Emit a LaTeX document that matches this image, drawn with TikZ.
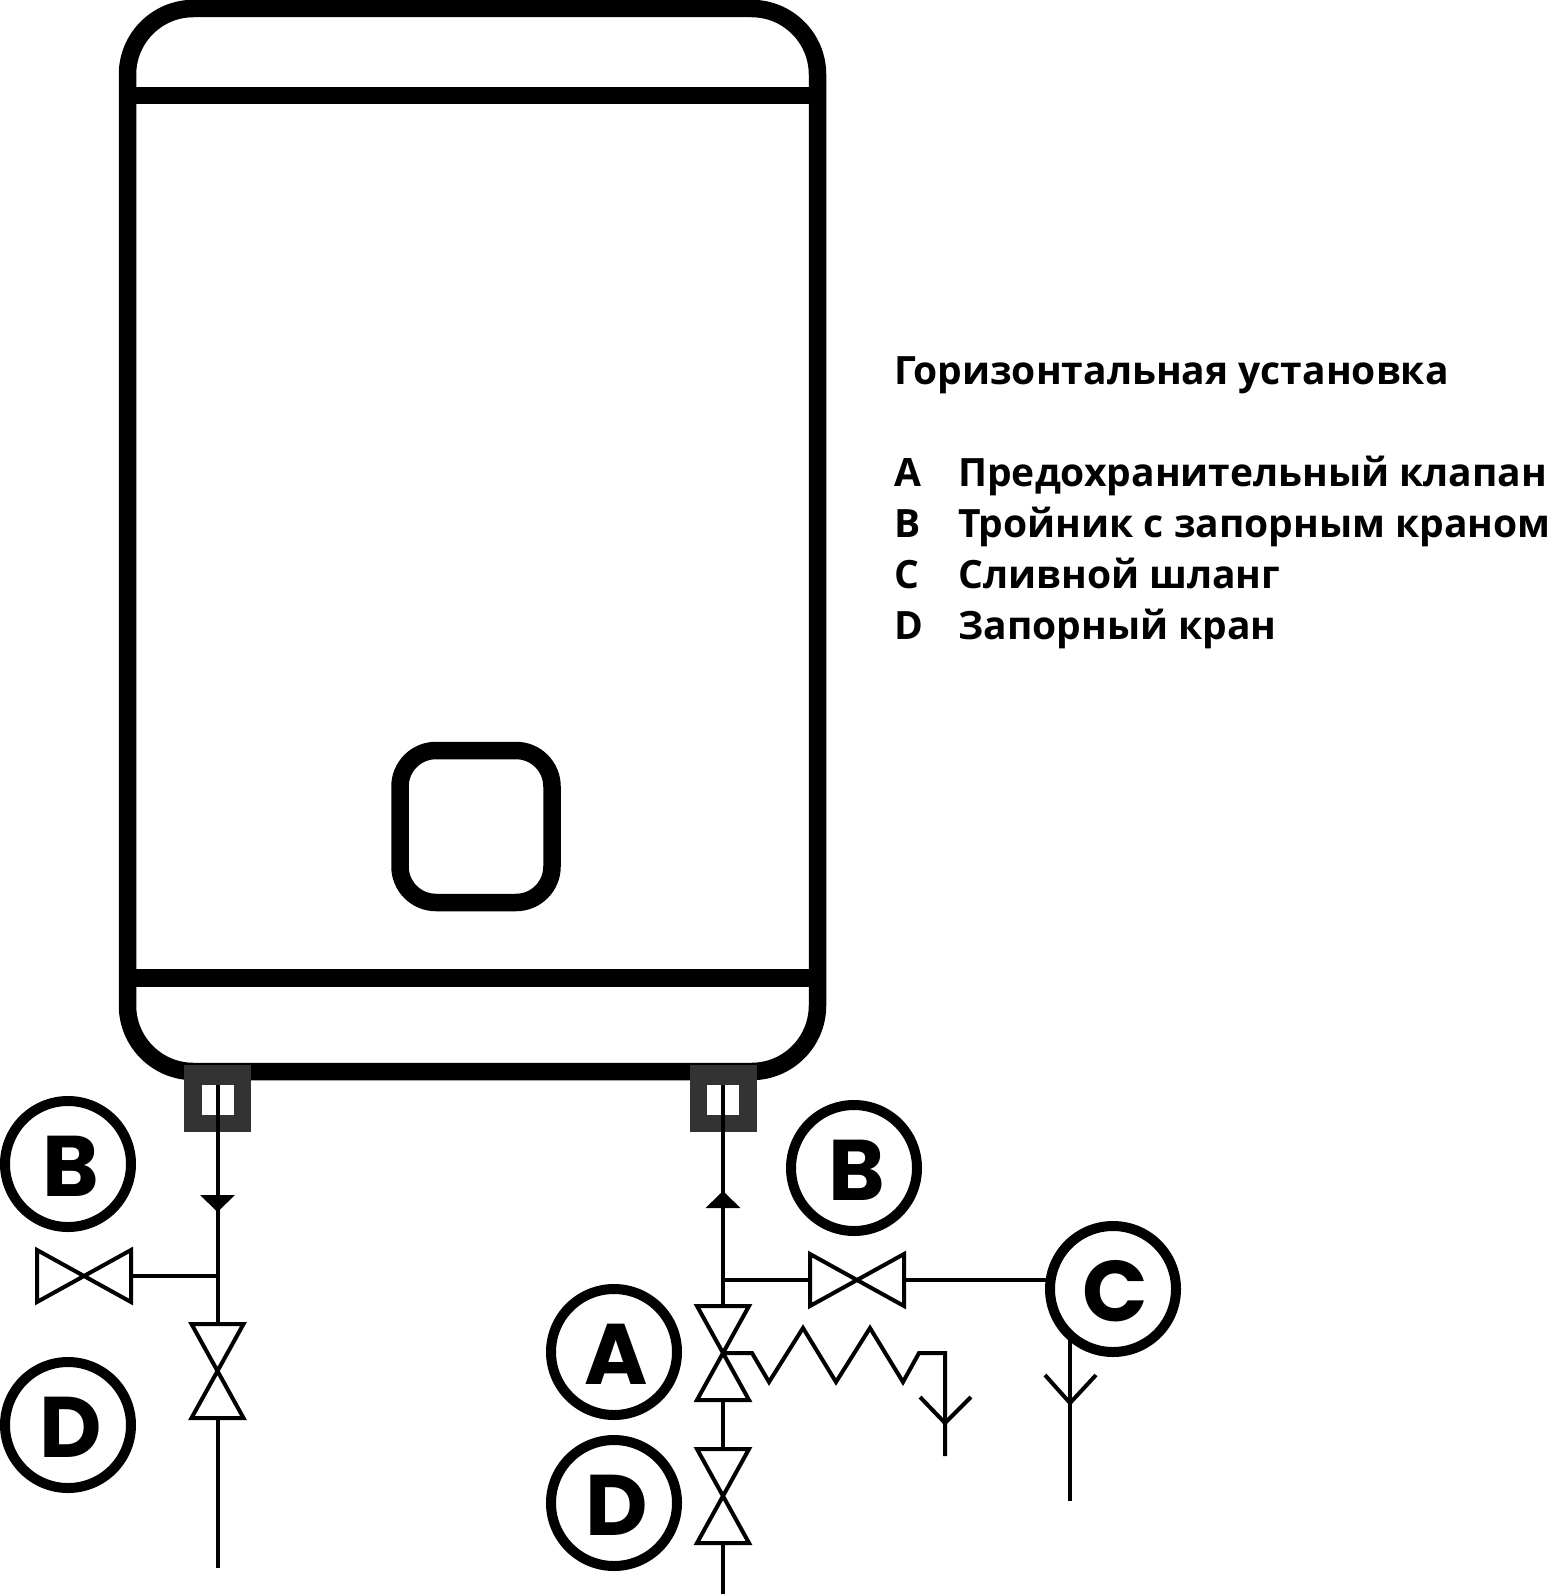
\documentclass[tikz,border=0pt]{standalone}
\usepackage{fontspec}
\setmainfont{Open Sans}
\newfontfamily\badgefont{Poppins}
\usetikzlibrary{arrows.meta}
\newcommand{\valvev}[1]{\draw[pipe] (#1.north west) -- (#1.north east) -- (#1.south west) -- (#1.south east) -- cycle;}
\newcommand{\valveh}[1]{\draw[pipe] (#1.north west) -- (#1.south west) -- (#1.north east) -- (#1.south east) -- cycle;}
\tikzset{
  wall/.style = {line width=17.5pt},
  pipe/.style = {line width=4pt},
  badge/.style = {circle,draw,line width=10pt,minimum size=126pt,inner sep=0pt,outer sep=0pt,text height=64pt,text depth=0pt,font=\badgefont\bfseries\fontsize{86}{86}\selectfont,execute at begin node=\hspace*{5pt}},
  fitbox/.style = {fill=black!80,minimum width=67pt,minimum height=67pt,inner sep=0pt,outer sep=0pt},
  fitwin/.style = {fill=white,minimum width=32pt,minimum height=30pt,inner sep=0pt,outer sep=0pt},
  valveV/.style = {minimum width=52pt,minimum height=94pt,inner sep=0pt,outer sep=0pt},
  valveH/.style = {minimum width=94pt,minimum height=52pt,inner sep=0pt,outer sep=0pt},
  legend/.style = {anchor=base west,inner sep=0pt,font=\bfseries\fontsize{39}{39}\selectfont},
  flow/.style = {pipe,-{Triangle[width=34pt,length=17pt]}}
}

\begin{document}
\begin{tikzpicture}[x=1pt,y=-1pt]
  \useasboundingbox (0,0) rectangle (1550,1594);

  % tank
  \draw[wall,rounded corners=66pt] (127.5,8.5) rectangle (817.5,1071.5);
  \draw[wall] (127.5,95.5) -- (817.5,95.5);
  \draw[wall] (127.5,978) -- (817.5,978);
  \draw[wall,rounded corners=36pt] (400,750.5) rectangle (552,902.5);

  % fittings
  \node[fitbox] (fitL) at (217.5,1098.5) {};
  \node[fitwin] (winL) at (217.5,1100) {};
  \node[fitbox] (fitR) at (723,1098.5) {};
  \node[fitwin] (winR) at (723,1100) {};

  % valves
  \node[valveH] (valveBL) at (84,1276) {};
  \node[valveV] (valveDL) at (217.5,1371) {};
  \node[valveH] (valveBR) at (857,1280) {};
  \node[valveV] (valveA) at (723,1353) {};
  \node[valveV] (valveDR) at (723,1496) {};
  \valveh{valveBL}
  \valvev{valveDL}
  \valveh{valveBR}
  \valvev{valveA}
  \valvev{valveDR}

  % labels
  \node[badge] (badgeBL) at (68,1164) {B};
  \node[badge] (badgeDL) at (68,1425) {D};
  \node[badge] (badgeBR) at (854,1168) {B};
  \node[badge] (badgeA) at (614,1352) {A};
  \node[badge] (badgeDR) at (614,1503) {D};
  \node[badge] (badgeC) at (1113,1289) {C};

  \coordinate (tipL) at (217.5,1212);
  \coordinate (teeL) at (217.5,1276);
  \coordinate (endL) at (217.5,1568);
  \coordinate (tipR) at (723,1191);
  \coordinate (teeR) at (723,1280);
  \coordinate (endR) at (723,1594);
  \coordinate (endA) at (945,1456);
  \coordinate (endC) at (1070,1501);

  % left line
  \draw[pipe] (winL.north) -- (valveDL.north);
  \draw[flow] (winL.north) -- (tipL);
  \draw[pipe] (valveBL.east) -- (teeL);
  \draw[pipe] (valveDL.south) -- (endL);

  % right line
  \draw[pipe] (winR.north) -- (valveA.north);
  \draw[flow] (teeR) -- (tipR);
  \draw[pipe] (teeR) -- (valveBR.west);
  \draw[pipe] (valveBR.east) -- (valveBR.east -| badgeC.west);
  \draw[pipe] (valveA.south) -- (valveDR.north);
  \draw[pipe] (valveDR.south) -- (endR);

  % relief line
  \draw[pipe] (valveA.center) -- (752,1353) -- (769,1382) -- (803,1328) -- (836,1382) -- (870,1328) -- (903,1382) -- (919,1353) -- (945,1353) -- (endA);
  \draw[pipe] (920,1397) -- (945,1423) -- (971,1397);

  % drain
  \draw[pipe] (endC |- badgeC.south west) -- (endC);
  \draw[pipe] (1045,1375) -- (1070,1403) -- (1096,1375);

  \node[legend] (title) at (894,384) {Горизонтальная установка};
  \node[legend] (keyA) at (894,486) {A};
  \node[legend] (keyB) at (894,537) {B};
  \node[legend] (keyC) at (894,588) {C};
  \node[legend] (keyD) at (894,639) {D};
  \node[legend] (textA) at (958,486) {Предохранительный клапан};
  \node[legend] (textB) at (958,537) {Тройник с запорным краном};
  \node[legend] (textC) at (958,588) {Сливной шланг};
  \node[legend] (textD) at (958,639) {Запорный кран};
\end{tikzpicture}
\end{document}
